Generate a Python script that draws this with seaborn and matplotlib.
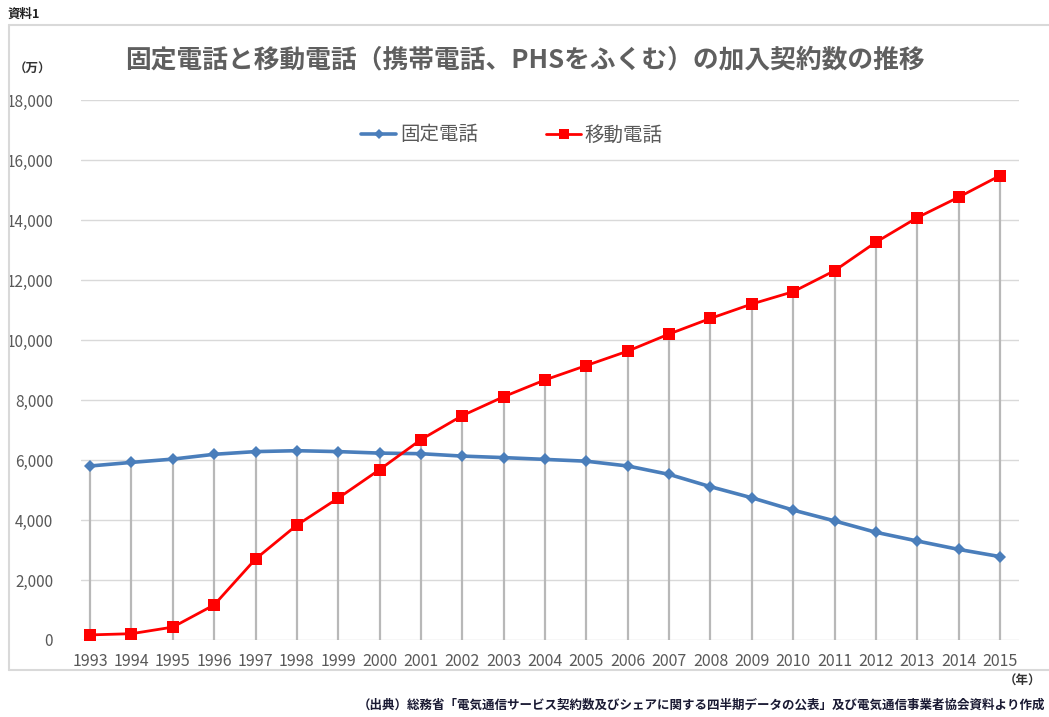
import numpy as np
import pandas as pd
import matplotlib
matplotlib.use("Agg")
import matplotlib.pyplot as plt
from matplotlib.lines import Line2D
import seaborn as sns

# データ（万契約）
years = list(range(1993, 2016))
fixed = [5800, 5920, 6030, 6190, 6280, 6310, 6280, 6230, 6210, 6130, 6080, 6020,
         5960, 5800, 5520, 5110, 4740, 4330, 3970, 3590, 3300, 3020, 2780]
mobile = [170, 210, 430, 1170, 2700, 3830, 4730, 5680, 6680, 7480, 8110, 8670,
          9150, 9630, 10200, 10720, 11200, 11610, 12310, 13260, 14080, 14760, 15480]
y_ticks = list(range(0, 18001, 2000))

df = pd.DataFrame({"year": years, "固定電話": fixed, "移動電話": mobile})

sns.set_theme(style="white")
plt.rcParams["font.family"] = ["Noto Sans CJK JP", "DejaVu Sans"]

fig = plt.figure(figsize=(10.49, 7.17), dpi=100)
W, H = 1049, 717
ax = fig.add_axes([81 / W, (H - 640) / H, (1019 - 81) / W, 540 / H])

# 縦線（各年の最大値まで）
ax.vlines(df["year"], 0, df[["固定電話", "移動電話"]].max(axis=1),
          color="#b8b8b8", lw=1.6, zorder=1)

sns.lineplot(data=df, x="year", y="固定電話", ax=ax, color="#4a7ebb", lw=2.6,
             marker="D", markersize=6, markeredgewidth=0, zorder=3)
sns.lineplot(data=df, x="year", y="移動電話", ax=ax, color="#ff0000", lw=2,
             marker="s", markersize=8.5, markeredgewidth=0, zorder=4)

ax.set_ylim(0, 18000)
ax.set_xlim(1992.78, 2015.46)
ax.set_yticks(y_ticks)
ax.set_yticklabels([f"{v:,}" for v in y_ticks])
ax.set_xticks(years)
ax.set_xticklabels([str(y) for y in years])
ax.yaxis.grid(True, color="#d9d9d9", lw=1)
ax.xaxis.grid(False)
ax.set_axisbelow(True)
for s in ax.spines.values():
    s.set_visible(False)
ax.tick_params(axis="y", length=0, pad=20, labelsize=11, labelcolor="#595959")
ax.tick_params(axis="x", length=0, pad=9, labelsize=11.5, labelcolor="#595959")
ax.set_xlabel("")
ax.set_ylabel("")

# 外枠
border = "#d9d9d9"
fig.add_artist(Line2D([9 / W, 9 / W], [(H - 25) / H, (H - 670) / H], color=border, lw=1.5))
fig.add_artist(Line2D([9 / W, 1], [(H - 25) / H, (H - 25) / H], color=border, lw=1.5))
fig.add_artist(Line2D([9 / W, 1], [(H - 670) / H, (H - 670) / H], color=border, lw=1.5))

fig.text(525 / W, (H - 60) / H, "固定電話と移動電話（携帯電話、PHSをふくむ）の加入契約数の推移",
         ha="center", va="center", fontsize=18.5, fontweight="bold", color="#5f5f5f")
fig.text(8 / W, (H - 14) / H, "資料1", ha="left", va="center", fontsize=9,
         fontweight="bold", color="#222222")
fig.text(32 / W, (H - 69) / H, "（万）", ha="center", va="center", fontsize=9,
         fontweight="bold", color="#333333")
fig.text(1022 / W, (H - 681) / H, "（年）", ha="center", va="center", fontsize=9,
         fontweight="bold", color="#333333")
fig.text(1045 / W, (H - 705) / H,
         "（出典）総務省「電気通信サービス契約数及びシェアに関する四半期データの公表」及び電気通信事業者協会資料より作成",
         ha="right", va="center", fontsize=9, fontweight="bold", color="#1a1a33")

handles = [Line2D([], [], color="#4a7ebb", lw=2.6, marker="D", markersize=5, markeredgewidth=0),
           Line2D([], [], color="#ff0000", lw=2, marker="s", markersize=7, markeredgewidth=0)]
fig.legend(handles, ["固定電話", "移動電話"], loc="center", bbox_to_anchor=(512 / W, (H - 135) / H),
           ncol=2, frameon=False, fontsize=14, labelcolor="#595959",
           handlelength=1.8, handletextpad=0.2, columnspacing=3.5)

fig.savefig("out.png", dpi=100)
